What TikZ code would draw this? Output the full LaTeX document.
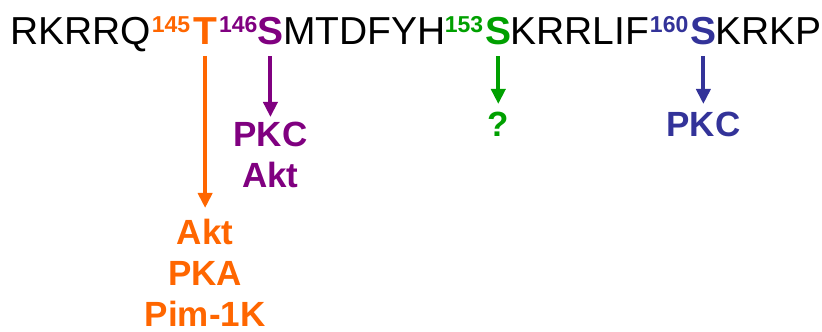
\documentclass[tikz,border=0pt]{standalone}
\usepackage{fontspec}
\setmainfont{Liberation Sans}
\usetikzlibrary{arrows.meta}
\definecolor{sorange}{RGB}{255,102,0}
\definecolor{spurple}{RGB}{128,0,128}
\definecolor{sgreen}{RGB}{0,160,0}
\definecolor{sblue}{RGB}{51,51,153}
\begin{document}
\begin{tikzpicture}[x=1pt,y=1pt,
  seq/.style={inner sep=0pt,outer sep=0pt,anchor=base west,font=\fontsize{39}{44}\selectfont},
  res/.style={seq,font=\fontsize{39}{44}\selectfont\bfseries},
  num/.style={inner sep=0pt,outer sep=0pt,anchor=base west,font=\fontsize{23}{24}\selectfont\bfseries,yshift=12pt},
  kin/.style={inner sep=0pt,outer sep=0pt,anchor=north,align=center,font=\fontsize{35}{41}\selectfont\bfseries},
  site/.style={-{Triangle[length=15pt,width=14pt]},line width=4pt}
]
\useasboundingbox (0,0) rectangle (822,332);
% peptide sequence, built left to right
\node[seq] (s1) at (10,287) {RKRRQ};
\node[num,text=sorange] (n145) at ([xshift=1pt]s1.base east) {145};
\node[res,text=sorange] (T145) at ([xshift=3pt]n145.base east|-s1.base) {T};
\node[num,text=spurple] (n146) at ([xshift=2pt]T145.base east) {146};
\node[res,text=spurple] (S146) at (n146.base east|-s1.base) {S};
\node[seq] (s2) at (S146.base east) {MTDFYH};
\node[num,text=sgreen] (n153) at ([xshift=-1pt]s2.base east) {153};
\node[res,text=sgreen] (S153) at ([xshift=2pt]n153.base east|-s1.base) {S};
\node[seq] (s3) at ([xshift=-1pt]S153.base east) {KRRLIF};
\node[num,text=sblue] (n160) at ([xshift=1pt]s3.base east) {160};
\node[res,text=sblue] (S160) at ([xshift=2pt]n160.base east|-s1.base) {S};
\node[seq] (s4) at ([xshift=-1pt]S160.base east) {KRKP};
% kinases
\node[kin,text=sorange] (kT145) at (T145.south|-0,113) {Akt\\PKA\\Pim-1K};
\node[kin,text=spurple] (kS146) at (S146.south|-0,210) {PKC\\Akt};
\node[kin,text=sgreen] (kS153) at (S153.south|-0,220) {?};
\node[kin,text=sblue] (kS160) at (S160.south|-0,220) {PKC};
% phosphorylation arrows
\draw[site,draw=sorange] ([yshift=-11pt]T145.south) -- ([yshift=11pt]kT145.north);
\draw[site,draw=spurple] ([yshift=-11pt]S146.south) -- ([yshift=5pt]kS146.north);
\draw[site,draw=sgreen] ([yshift=-11pt]S153.south) -- ([yshift=8pt]kS153.north);
\draw[site,draw=sblue] ([yshift=-11pt]S160.south) -- ([yshift=8pt]kS160.north);
\end{tikzpicture}
\end{document}
